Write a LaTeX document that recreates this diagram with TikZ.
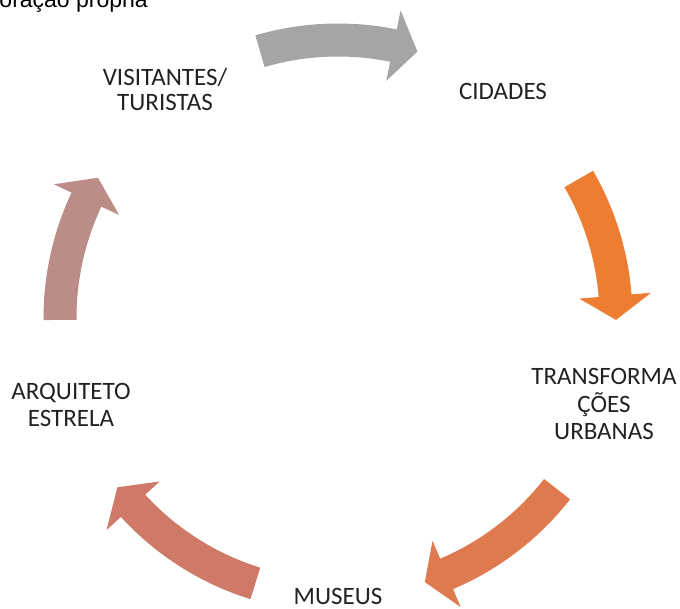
\documentclass[tikz,border=0pt]{standalone}
\usepackage{fontspec}
\setmainfont{Carlito}
\newfontfamily\arialf{Liberation Sans}
\definecolor{cgray}{HTML}{A5A5A5}
\definecolor{corange}{HTML}{ED7D31}
\definecolor{clr}{HTML}{DF7A4E}
\definecolor{cbl}{HTML}{CF7A69}
\definecolor{cleft}{HTML}{BC8C88}
\definecolor{txt}{HTML}{222222}
\newcommand{\cycarrow}[4]{%
  \fill[#1] ([shift={(#2:294.5)}]C) arc[start angle=#2,end angle=#3,radius=294.5]
    -- ([shift={(#3:314)}]C) -- ([shift={(#4:278)}]C) -- ([shift={(#3:242)}]C)
    -- ([shift={(#3:261.5)}]C) arc[start angle=#3,end angle=#2,radius=261.5] -- cycle;}
\begin{document}
\begin{tikzpicture}[x=1pt,y=1pt,
  lbl/.style={font=\fontsize{25}{28}\selectfont, text=txt, inner sep=0pt, anchor=base}]
\useasboundingbox (0,0) rectangle (680,608);
\clip (0,0) rectangle (680,608);
\coordinate (C) at (338,290);
% arrows
\cycarrow{cgray}{106.3}{78.5}{73.4}
\cycarrow{corange}{30}{4.6}{-0.4}
\cycarrow{clr}{-38}{-67}{-71.8}
\cycarrow{cbl}{-107.3}{-137.5}{-142.5}
\cycarrow{cleft}{180.4}{154.8}{149.7}
% source line (cut at top)
\node[anchor=base east, font=\arialf\fontsize{23}{27}\selectfont, inner sep=0pt, text=black] (src) at (148,600) {Fonte: Elaboração própria};
% labels
\node[lbl] (vis1) at (165,522) {VISITANTES/};
\node[lbl] (vis2) at (165,497) {TURISTAS};
\node[lbl] (cid) at (503,508) {CIDADES};
\node[lbl] (tr1) at (604,223) {TRANSFORMA};
\node[lbl] (tr2) at (604,195) {ÇÕES};
\node[lbl] (tr3) at (604,168) {URBANAS};
\node[lbl] (mus) at (338,4) {MUSEUS};
\node[lbl] (arq1) at (71,208) {ARQUITETO};
\node[lbl] (arq2) at (71,181) {ESTRELA};
\end{tikzpicture}
\end{document}
